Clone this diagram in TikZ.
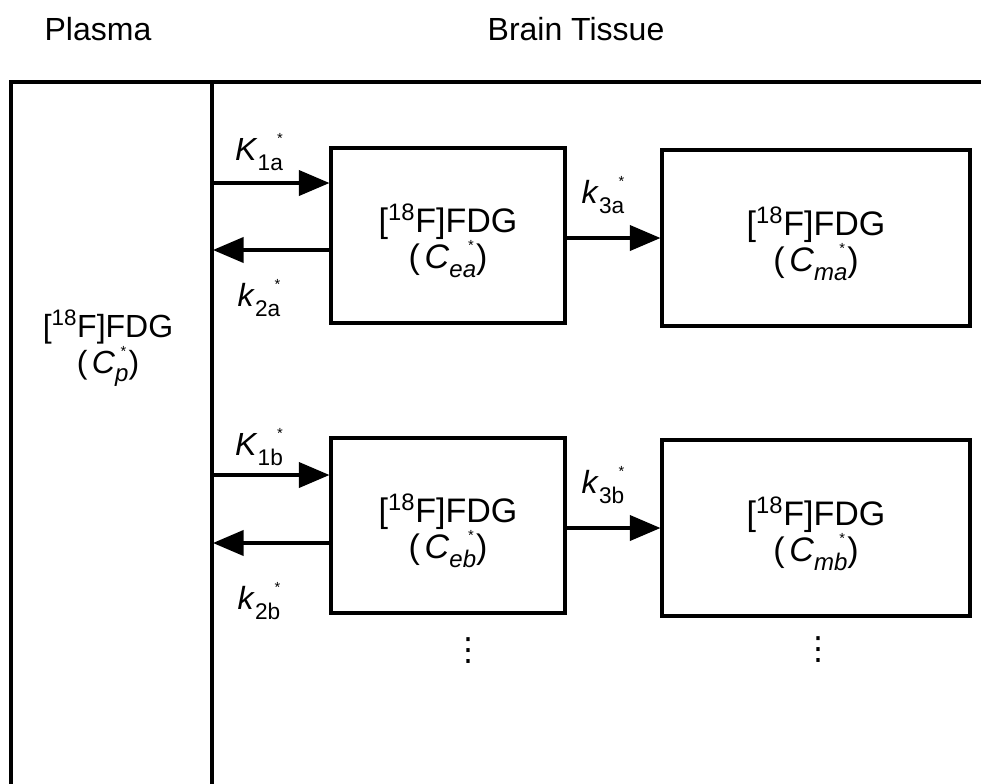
\documentclass[tikz,border=0pt]{standalone}
\usepackage{fontspec}
\setmainfont{Liberation Sans}
\newfontfamily\dejavu{DejaVu Sans}
\usetikzlibrary{arrows.meta}
\newcommand\rate[2]{\textit{#1}\raisebox{-0.55ex}{\fontsize{17}{17}\selectfont #2}\llap{\raisebox{1.0ex}{\fontsize{11}{11}\selectfont *}}}
\newcommand\conc[1]{(\hspace{0.14em}\textit{C}\raisebox{-0.5ex}{\fontsize{18}{18}\selectfont\textit{#1}}\llap{\raisebox{1.0ex}{\fontsize{11}{11}\selectfont *}\hspace{0.07em}})}
\newcommand\fdg{[\textsuperscript{18}F]FDG}
\newcommand\topstrut{\rule{0pt}{30pt}}
\begin{document}
\begin{tikzpicture}[x=0.75pt,y=-0.75pt,
  every node/.style={font=\fontsize{24}{29}\selectfont, inner sep=0pt},
  frame/.style={line width=2.3pt, line cap=rect},
  compbox/.style={draw, line width=2.3pt, align=center, font=\fontsize{25.5}{27}\selectfont},
  plasmatext/.style={align=center, font=\fontsize{24}{27}\selectfont},
  arr/.style={line width=2.3pt, -{Triangle[length=23pt,width=19pt]}},
  dotsym/.style={font=\dejavu\fontsize{24}{24}\selectfont}]
\useasboundingbox (0,0) rectangle (981,783);
% headers
\node (plasma) at (98,29) {Plasma};
\node (brain) at (576,29) {Brain Tissue};
% frame
\coordinate (tl) at (11,82);
\coordinate (tr) at (981,82);
\coordinate (bl) at (11,783);
\coordinate (dtop) at (212,82);
\coordinate (dbot) at (212,783);
\draw[frame] (bl) -- (tl) -- (tr);
\draw[frame] (dtop) -- (dbot);
% plasma compartment label
\node[plasmatext] (cp) at (108,348) {\fdg\\\conc{p}};
% boxes
\node[compbox, minimum width=175.5pt, minimum height=131.25pt] (ea) at (448,235.5) {\topstrut\fdg\\\conc{ea}};
\node[compbox, minimum width=231pt, minimum height=132pt] (ma) at (816,238) {\topstrut\fdg\\\conc{ma}};
\node[compbox, minimum width=175.5pt, minimum height=131.25pt] (eb) at (448,525.5) {\topstrut\fdg\\\conc{eb}};
\node[compbox, minimum width=231pt, minimum height=132pt] (mb) at (816,528) {\topstrut\fdg\\\conc{mb}};
% arrows a
\coordinate (k1a) at (212,183);
\coordinate (k2a) at (213,250);
\draw[arr] (k1a) -- (k1a -| ea.west);
\draw[arr] (k2a -| ea.west) -- (k2a);
\draw[arr] (ea.east |- ma.west) -- (ma.west);
% arrows b
\coordinate (k1b) at (212,475);
\coordinate (k2b) at (213,543);
\draw[arr] (k1b) -- (k1b -| eb.west);
\draw[arr] (k2b -| eb.west) -- (k2b);
\draw[arr] (eb.east |- mb.west) -- (mb.west);
% labels
\node (lK1a) at (259,152) {\rate{K}{1a}};
\node (lk2a) at (259,298) {\rate{k}{2a}};
\node (lk3a) at (603,195) {\rate{k}{3a}};
\node (lK1b) at (259,447) {\rate{K}{1b}};
\node (lk2b) at (259,601) {\rate{k}{2b}};
\node (lk3b) at (603,485) {\rate{k}{3b}};
% ellipses
\node[dotsym] (dots1) at (468,651) {⋮};
\node[dotsym] (dots2) at (818,650) {⋮};
\end{tikzpicture}
\end{document}
